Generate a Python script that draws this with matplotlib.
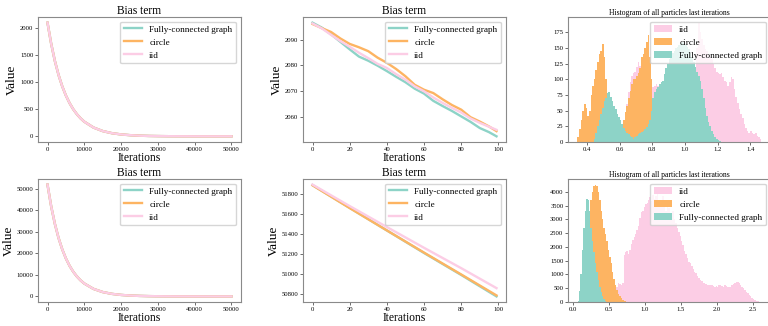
import numpy as np
import matplotlib
matplotlib.use('Agg')
import matplotlib.pyplot as plt

plt.rcParams['font.family'] = ['Liberation Serif', 'DejaVu Serif']

C_FC = '#8dd3c7'
C_CIR = '#fdb462'
C_IID = '#fccde5'

# ---------------- long-run bias term (left column) ----------------
long_iters = [0, 1000, 2000, 3000, 4000, 5000, 6000, 7000, 8000, 9000, 10000,
              12500, 15000, 17500, 20000, 22500, 25000, 27500, 30000, 32500,
              35000, 37500, 40000, 42500, 45000, 47500, 50000]

top_long_fc = [2096.5, 1708, 1391, 1133, 923, 752, 613, 499, 407, 331, 270,
               162, 97, 58, 35, 21, 12, 7, 4.5, 2.7, 1.6, 1.0, 0.6, 0.3, 0.2, 0.1, 0.1]
top_long_circle = [2096.0, 1708, 1391, 1133, 923, 752, 613, 499, 407, 331, 270,
                   162, 97, 58, 35, 21, 12, 7, 4.5, 2.7, 1.6, 1.0, 0.6, 0.3, 0.2, 0.1, 0.1]
top_long_iid = [2096.2, 1708, 1391, 1133, 923, 752, 613, 499, 407, 331, 270,
                162, 97, 58, 35, 21, 12, 7, 4.5, 2.7, 1.6, 1.0, 0.6, 0.3, 0.2, 0.1, 0.1]

bot_long_fc = [51890, 41808, 33685, 27140, 21867, 17618, 14195, 11437, 9215, 7424, 5982,
               3486, 2032, 1184, 690, 402, 234, 137, 80, 46, 27, 16, 9, 5, 3, 2, 1]
bot_long_circle = [51888, 41808, 33685, 27140, 21867, 17618, 14195, 11437, 9215, 7424, 5982,
                   3486, 2032, 1184, 690, 402, 234, 137, 80, 46, 27, 16, 9, 5, 3, 2, 1]
bot_long_iid = [51895, 41812, 33690, 27145, 21870, 17620, 14198, 11440, 9218, 7426, 5984,
                3488, 2034, 1186, 691, 403, 235, 138, 80, 46, 27, 16, 9, 5, 3, 2, 1]

# ---------------- first 100 iterations (middle column) ----------------
short_iters = [0, 5, 10, 15, 20, 25, 30, 35, 40, 45, 50, 55, 60, 65, 70, 75, 80, 85, 90, 95, 99]
top_short_fc = [2096.5, 2094.6, 2092.0, 2089.1, 2086.2, 2083.4, 2081.8, 2079.9, 2077.8, 2075.6,
                2073.5, 2071.0, 2069.1, 2066.3, 2064.3, 2062.4, 2060.3, 2058.2, 2055.8, 2054.2, 2052.6]
top_short_circle = [2096.0, 2094.4, 2092.9, 2090.4, 2088.3, 2087.0, 2085.5, 2083.0, 2081.0, 2078.6,
                    2075.8, 2072.5, 2070.6, 2069.3, 2066.9, 2064.7, 2062.9, 2060.0, 2058.3, 2056.4, 2054.6]
top_short_iid = [2096.2, 2094.3, 2091.8, 2089.4, 2087.2, 2084.9, 2082.8, 2080.6, 2079.0, 2076.6,
                 2074.5, 2071.9, 2070.0, 2067.6, 2065.5, 2063.6, 2061.8, 2059.5, 2057.8, 2056.3, 2055.1]

bot_short_iters = [0, 20, 40, 60, 80, 99]
bot_short_fc = [51890, 51662, 51436, 51210, 50990, 50775]
bot_short_circle = [51888, 51660, 51436, 51214, 50995, 50785]
bot_short_iid = [51895, 51680, 51470, 51262, 51058, 50858]

# ---------------- histograms (right column) ----------------
top_bin_width = 0.01
top_hist_iid_start = 0.62
top_hist_iid = [20, 40, 60, 80, 95, 105, 110, 112, 120, 128, 122, 115, 110, 105, 100, 95, 92, 90,
                88, 90, 92, 90, 88, 90, 95, 100, 110, 115, 120, 125, 128, 130, 135, 138, 140, 142,
                145, 148, 150, 148, 145, 130, 125, 120, 115, 150, 190, 175, 165, 155, 149, 145,
                140, 135, 133, 125, 118, 112, 110, 108, 110, 104, 98, 96, 90, 95, 104, 100, 85,
                72, 62, 52, 45, 38, 28, 22, 18, 15, 18, 14, 12, 15, 10, 8, 5]
top_hist_circle_start = 0.34
top_hist_circle = [8, 20, 35, 50, 60, 55, 42, 50, 75, 90, 100, 115, 128, 140, 145, 157, 135, 100,
                   75, 55, 35, 22, 12, 6, 3, 2, 5, 15, 35, 48, 58, 70, 82, 92, 100, 100, 105, 110,
                   118, 135, 140, 150, 160, 170, 135, 100, 55, 18]
top_hist_fc_start = 0.44
top_hist_fc = [5, 15, 25, 35, 45, 55, 65, 70, 78, 80, 72, 65, 58, 52, 45, 40, 35, 28, 22, 18, 15,
               12, 10, 8, 5, 8, 10, 12, 14, 16, 18, 20, 24, 28, 35, 50, 70, 80, 85, 88, 92, 95, 98,
               108, 118, 125, 132, 138, 142, 145, 150, 152, 155, 158, 160, 158, 155, 152, 148,
               142, 135, 128, 120, 112, 105, 98, 85, 70, 55, 42, 32, 25, 18, 12, 8, 5, 3, 2]

bot_bin_width = 0.02
bot_hist_iid_start = 0.56
bot_hist_iid = [100, 300, 550, 700, 650, 600, 700, 1700, 1800, 1850, 1750, 1900, 2100, 2250, 2350,
                2450, 2600, 2750, 3050, 3250, 3300, 3450, 3550, 3600, 3700, 3800, 3650, 3900, 3750,
                3850, 4100, 3700, 3600, 3500, 3850, 3650, 3300, 3700, 3400, 3200, 3100, 3300, 3000,
                2850, 2700, 2550, 2400, 2200, 2050, 1850, 1750, 1600, 1450, 1400, 1300, 1200, 1100,
                1050, 950, 880, 800, 750, 700, 680, 650, 620, 600, 620, 600, 580, 560, 570, 550,
                600, 620, 580, 560, 600, 580, 560, 540, 560, 600, 650, 700, 720, 740, 700, 620,
                560, 500, 430, 380, 320, 260, 200, 150, 110, 70, 40, 25, 15, 5]
bot_hist_circle_start = 0.14
bot_hist_circle = [300, 800, 1500, 2300, 3000, 3700, 4000, 4200, 4250, 4200, 4000, 3700, 3300,
                   3000, 2700, 2450, 2200, 1900, 1650, 1400, 1100, 850, 600, 420, 300, 200, 130,
                   80, 40, 20]
bot_hist_fc_start = 0.06
bot_hist_fc = [50, 400, 1000, 1900, 2700, 3300, 3750, 3700, 3300, 2700, 2200, 1800, 1400, 1100,
               800, 550, 350, 200, 100, 40, 15]

# ticks
long_xticks = [0, 10000, 20000, 30000, 40000, 50000]
top_long_yticks = [0, 500, 1000, 1500, 2000]
bot_long_yticks = [0, 10000, 20000, 30000, 40000, 50000]
short_xticks = [0, 20, 40, 60, 80, 100]
top_short_yticks = [2060, 2070, 2080, 2090]
bot_short_yticks = [50800, 51000, 51200, 51400, 51600, 51800]
top_hist_xticks = [0.4, 0.6, 0.8, 1.0, 1.2, 1.4]
top_hist_yticks = [0, 25, 50, 75, 100, 125, 150, 175]
bot_hist_xticks = [0.0, 0.5, 1.0, 1.5, 2.0, 2.5]
bot_hist_yticks = [0, 500, 1000, 1500, 2000, 2500, 3000, 3500, 4000]

W, H = 768, 326
fig = plt.figure(figsize=(W / 100, H / 100), dpi=100)


def add_ax(left, top, right, bottom):
    return fig.add_axes([left / W, 1 - bottom / H, (right - left) / W, (bottom - top) / H])


def style(ax):
    for s in ax.spines.values():
        s.set_color('#8a8a8a')
        s.set_linewidth(0.8)
    ax.tick_params(labelsize=4.8, length=2, width=0.6, pad=1.5, color='#555555')


TITLE_FS = 8.3
LABEL_FS = 8.3
LEG_FS = 6.6

col_l = [38.3, 303.3, 568.3]
col_w = 202.4
rows = [(17, 142), (179, 302)]

# ---- line plots ----
line_sets = [
    (0, 0, long_iters, top_long_fc, top_long_circle, top_long_iid, long_xticks, top_long_yticks),
    (0, 1, short_iters, top_short_fc, top_short_circle, top_short_iid, short_xticks, top_short_yticks),
    (1, 0, long_iters, bot_long_fc, bot_long_circle, bot_long_iid, long_xticks, bot_long_yticks),
    (1, 1, bot_short_iters, bot_short_fc, bot_short_circle, bot_short_iid, short_xticks, bot_short_yticks),
]
for r, c, xs, fc, cir, iid, xt, yt in line_sets:
    t, b = rows[r]
    ax = add_ax(col_l[c], t, col_l[c] + col_w, b)
    ax.plot(xs, fc, color=C_FC, lw=1.7, label='Fully-connected graph')
    ax.plot(xs, cir, color=C_CIR, lw=1.7, label='circle')
    ax.plot(xs, iid, color=C_IID, lw=1.7, label='iid')
    ax.set_xticks(xt)
    ax.set_yticks(yt)
    ax.set_title('Bias term', fontsize=TITLE_FS, pad=1.5)
    ax.set_xlabel('Iterations', fontsize=LABEL_FS, labelpad=0.2)
    ax.set_ylabel('Value', fontsize=LABEL_FS + 1.2, labelpad=1.5)
    style(ax)
    ax.legend(loc='upper right', fontsize=LEG_FS)

# ---- histograms ----
hist_sets = [
    (0, top_bin_width, [(top_hist_iid_start, top_hist_iid, C_IID, 'iid'),
                        (top_hist_circle_start, top_hist_circle, C_CIR, 'circle'),
                        (top_hist_fc_start, top_hist_fc, C_FC, 'Fully-connected graph')],
     top_hist_xticks, top_hist_yticks),
    (1, bot_bin_width, [(bot_hist_iid_start, bot_hist_iid, C_IID, 'iid'),
                        (bot_hist_circle_start, bot_hist_circle, C_CIR, 'circle'),
                        (bot_hist_fc_start, bot_hist_fc, C_FC, 'Fully-connected graph')],
     bot_hist_xticks, bot_hist_yticks),
]
for r, bw, series, xt, yt in hist_sets:
    t, b = rows[r]
    ax = add_ax(col_l[2], t, col_l[2] + col_w, b)
    for start, counts, col, lab in series:
        edges = start + bw * np.arange(len(counts) + 1)
        centers = edges[:-1] + bw / 2
        ax.hist(centers, bins=edges, weights=counts, color=col, label=lab)
    ax.set_xticks(xt)
    ax.set_yticks(yt)
    ax.set_title('Histogram of all particles last iterations', fontsize=5.5, pad=1.5)
    style(ax)
    ax.legend(loc='upper right', fontsize=LEG_FS)

fig.savefig('out.png', dpi=100)
